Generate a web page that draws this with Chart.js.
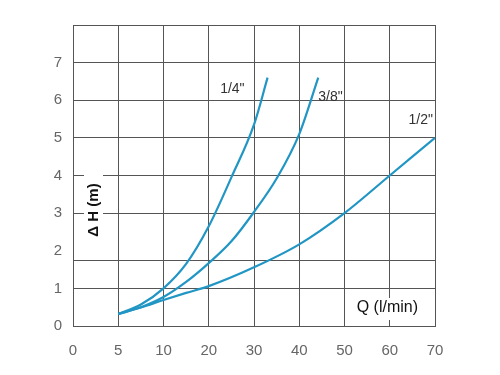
<!DOCTYPE html>
<html>
<head>
<meta charset="utf-8">
<script src="https://cdn.jsdelivr.net/npm/chart.js@4.4.1/dist/chart.umd.min.js"></script>
<style>
  html, body { margin: 0; padding: 0; background: #fff; }
  #wrap { width: 500px; height: 375px; }
</style>
</head>
<body>
<div id="wrap"><canvas id="c"></canvas></div>
<script>
/* ---- data ---- */
// x axis is uneven on the original: 0-10 by 5, then by 10
const xTicks = [0, 5, 10, 20, 30, 40, 50, 60, 70];
const yTicks = [0, 1, 2, 3, 4, 5, 6, 7];
const yMax = 8;
const yStrayLine = 1.75; // extra grid line on the original, no line at 2

const seriesNames = ['1/4"', '3/8"', '1/2"'];

const q14 = [5, 7.5, 10, 15, 20, 25, 30, 33];
const h14 = [0.32, 0.57, 1.0, 1.65, 2.65, 3.95, 5.35, 6.6];

const q38 = [5, 7.5, 10, 15, 20, 25, 30, 35, 40, 44.2];
const h38 = [0.32, 0.5, 0.77, 1.17, 1.67, 2.25, 3.03, 3.92, 5.1, 6.6];

const q12 = [5, 7.5, 10, 15, 20, 30, 40, 50, 60, 70];
const h12 = [0.32, 0.49, 0.69, 0.88, 1.06, 1.56, 2.17, 3.0, 4.0, 5.0];

/* ---- helpers ---- */
const gridColor = '#555';
const lineColor = '#2196c4';
const tickFont = { family: '"Liberation Sans", Arial, sans-serif', size: 15 };

// Q value -> position on the evenly spaced tick axis
function qToPos(q) {
  for (let i = 0; i < xTicks.length - 1; i++) {
    if (q <= xTicks[i + 1]) return i + (q - xTicks[i]) / (xTicks[i + 1] - xTicks[i]);
  }
  return xTicks.length - 1;
}
function toPoints(qs, hs) {
  return qs.map((q, i) => ({ x: qToPos(q), y: hs[i] }));
}

// series name offsets from each line's last point: [dx, dy, align]
const labelPlace = [[-23, 11, 'right'], [0, 19, 'left'], [-2, -18, 'right']];

const annotations = {
  id: 'annotations',
  afterDatasetsDraw(chart) {
    const ctx = chart.ctx;
    const area = chart.chartArea;
    ctx.save();

    // series names
    ctx.font = '14px "Liberation Sans", Arial, sans-serif';
    ctx.fillStyle = '#333';
    ctx.textBaseline = 'middle';
    chart.data.datasets.forEach((ds, i) => {
      const pts = chart.getDatasetMeta(i).data;
      const last = pts[pts.length - 1];
      const p = labelPlace[i];
      ctx.textAlign = p[2];
      ctx.fillText(seriesNames[i], last.x + p[0], last.y + p[1]);
    });

    // y title, white box over the grid
    const yx = area.left + 20, yy = area.top + 185;
    ctx.fillStyle = '#fff';
    ctx.fillRect(yx - 9, yy - 36, 19, 70);
    ctx.translate(yx, yy);
    ctx.rotate(-Math.PI / 2);
    ctx.font = 'bold 15px "Liberation Sans", Arial, sans-serif';
    ctx.fillStyle = '#111';
    ctx.textAlign = 'center';
    ctx.fillText('\u0394 H (m)', 0, 1);
    ctx.setTransform(1, 0, 0, 1, 0, 0);

    // x title
    const qx = area.right - 17, qy = area.bottom - 18;
    ctx.fillStyle = '#fff';
    ctx.fillRect(qx - 66, qy - 10, 70, 22);
    ctx.font = '16px "Liberation Sans", Arial, sans-serif';
    ctx.fillStyle = '#111';
    ctx.textAlign = 'right';
    ctx.fillText('Q (l/min)', qx, qy);
    ctx.restore();
  }
};

function makeDataset(qs, hs) {
  return {
    data: toPoints(qs, hs),
    borderColor: lineColor,
    borderWidth: 2.2,
    pointRadius: 0,
    fill: false,
    cubicInterpolationMode: 'monotone'
  };
}

new Chart(document.getElementById('c'), {
  type: 'line',
  data: {
    datasets: [makeDataset(q14, h14), makeDataset(q38, h38), makeDataset(q12, h12)]
  },
  options: {
    responsive: true,
    maintainAspectRatio: false,
    animation: false,
    layout: { padding: { top: 25, right: 65, left: 0, bottom: 0 } },
    plugins: { legend: { display: false }, tooltip: { enabled: false } },
    scales: {
      x: {
        type: 'linear',
        min: 0,
        max: xTicks.length - 1,
        afterBuildTicks: s => { s.ticks = xTicks.map((t, i) => ({ value: i })); },
        afterFit: s => { s.height = 49; },
        grid: { color: gridColor, lineWidth: 1, drawTicks: false },
        border: { color: gridColor },
        ticks: {
          autoSkip: false,
          maxRotation: 0,
          padding: 16,
          color: '#666',
          font: tickFont,
          callback: v => String(xTicks[v])
        }
      },
      y: {
        min: 0,
        max: yMax,
        afterBuildTicks: s => {
          const vals = [0, 1, yStrayLine, 2, 3, 4, 5, 6, 7, 8];
          s.ticks = vals.map(v => ({ value: v }));
        },
        afterFit: s => { s.width = 73; },
        grid: {
          color: c => (c.tick && c.tick.value === 2 ? 'rgba(0,0,0,0)' : gridColor),
          lineWidth: 1,
          drawTicks: false
        },
        border: { color: gridColor },
        ticks: {
          autoSkip: false,
          padding: 11,
          color: '#666',
          font: tickFont,
          callback: v => (yTicks.includes(v) ? String(v) : '')
        }
      }
    }
  },
  plugins: [annotations]
});
</script>
</body>
</html>
